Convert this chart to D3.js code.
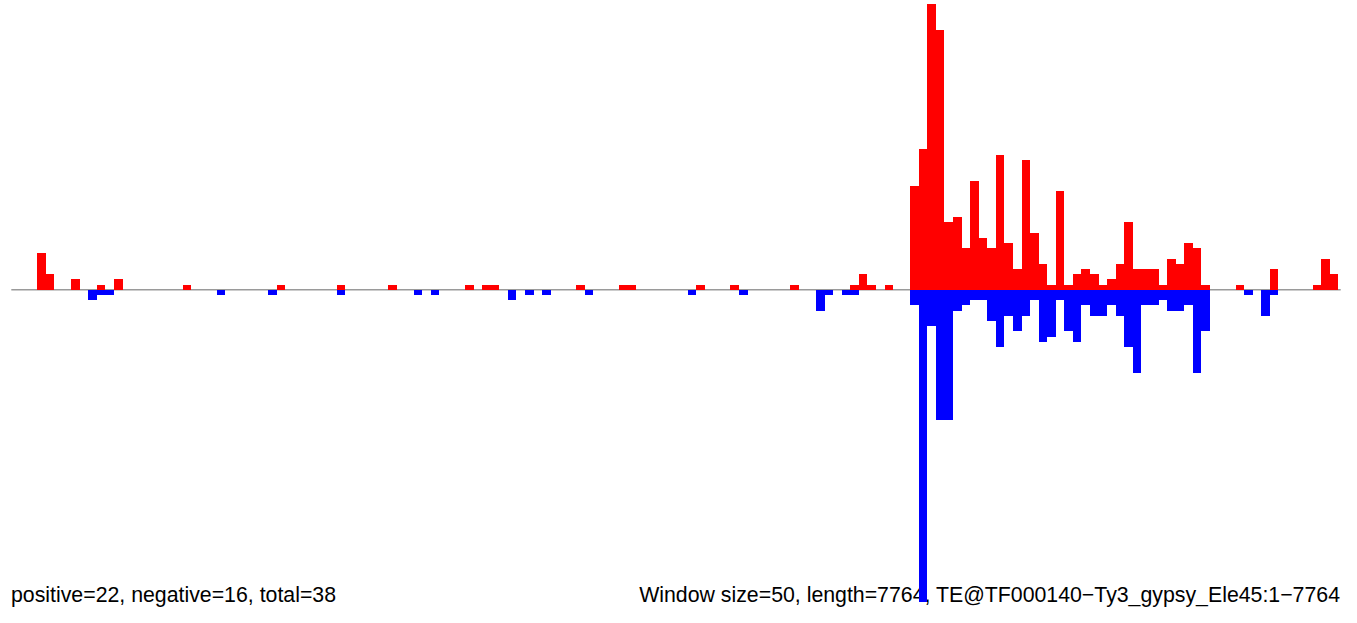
<!DOCTYPE html>
<html>
<head>
<meta charset="utf-8">
<script src="https://cdn.jsdelivr.net/npm/d3@7"></script>
<style>
  html, body { margin: 0; padding: 0; background: #fff; }
  svg { display: block; }
</style>
</head>
<body>
<svg id="chart" width="1357" height="623"></svg>
<script>
// ---- data ----
const windowSize = 50;
const seqLength = 7764;
// positive-strand counts per 50-bp window (window 0 .. 155)
const positive = [
  0,0,0,7,3,0,0,2,0,0,
  1,0,2,0,0,0,0,0,0,0,
  1,0,0,0,0,0,0,0,0,0,
  0,1,0,0,0,0,0,0,1,0,
  0,0,0,0,1,0,0,0,0,0,
  0,0,0,1,0,1,1,0,0,0,
  0,0,0,0,0,0,1,0,0,0,
  0,1,1,0,0,0,0,0,0,0,
  1,0,0,0,1,0,0,0,0,0,
  0,1,0,0,0,0,0,0,1,3,
  1,0,1,0,0,20,27,55,50,13,
  14,8,21,10,8,26,9,4,25,11,
  5,1,19,1,3,4,3,1,2,5,
  13,4,4,4,1,6,5,9,8,1,
  0,0,0,1,0,0,0,4,0,0,
  0,0,1,6,3,0
];
// negative-strand counts per 50-bp window (window 0 .. 155)
const negative = [
  0,0,0,0,0,0,0,0,0,2,
  1,1,0,0,0,0,0,0,0,0,
  0,0,0,0,1,0,0,0,0,0,
  1,0,0,0,0,0,0,0,1,0,
  0,0,0,0,0,0,0,1,0,1,
  0,0,0,0,0,0,0,0,2,0,
  1,0,1,0,0,0,0,1,0,0,
  0,0,0,0,0,0,0,0,0,1,
  0,0,0,0,0,1,0,0,0,0,
  0,0,0,0,4,1,0,1,1,0,
  0,0,0,0,0,3,60,7,25,25,
  4,3,2,2,6,11,5,8,5,2,
  10,9,2,8,10,3,5,5,3,5,
  11,16,3,3,2,4,4,3,16,8,
  0,0,0,0,1,0,5,1,0,0,
  0,0,0,0,0,0
];
const leftLabel = "positive=22, negative=16, total=38";
const rightLabel = "Window size=50, length=7764, TE@TF000140\u2212Ty3_gypsy_Ele45:1\u22127764";

// ---- drawing ----
const svg = d3.select("#chart");
const x = d3.scaleLinear().domain([0, seqLength]).range([11.3, 1340.7]);
const y = d3.scaleLinear().domain([-60, 55]).range([601.8, 3.8]);

const font = "'Liberation Sans', Arial, sans-serif";

svg.append("text")
  .attr("x", 11).attr("y", 602)
  .attr("font-family", font).attr("font-size", 21.3)
  .attr("fill", "#000")
  .text(leftLabel);

svg.append("text")
  .attr("x", 1340).attr("y", 602)
  .attr("text-anchor", "end")
  .attr("font-family", font).attr("font-size", 21.3)
  .attr("fill", "#000")
  .text(rightLabel);

svg.append("line")
  .attr("x1", x(0)).attr("x2", x(seqLength))
  .attr("y1", y(0)).attr("y2", y(0))
  .attr("stroke", "#9a9a9a").attr("stroke-width", 1.5);

const bw = x(windowSize) - x(0);

svg.append("g").attr("shape-rendering", "crispEdges")
  .selectAll("rect")
  .data(positive.map((v, i) => ({ i, v })).filter(d => d.v > 0))
  .join("rect")
  .attr("x", d => x(d.i * windowSize))
  .attr("width", bw)
  .attr("y", d => y(d.v))
  .attr("height", d => y(0) - y(d.v))
  .attr("fill", "#ff0000");

svg.append("g").attr("shape-rendering", "crispEdges")
  .selectAll("rect")
  .data(negative.map((v, i) => ({ i, v })).filter(d => d.v > 0))
  .join("rect")
  .attr("x", d => x(d.i * windowSize))
  .attr("width", bw)
  .attr("y", y(0))
  .attr("height", d => y(-d.v) - y(0))
  .attr("fill", "#0000ff");
</script>
</body>
</html>
